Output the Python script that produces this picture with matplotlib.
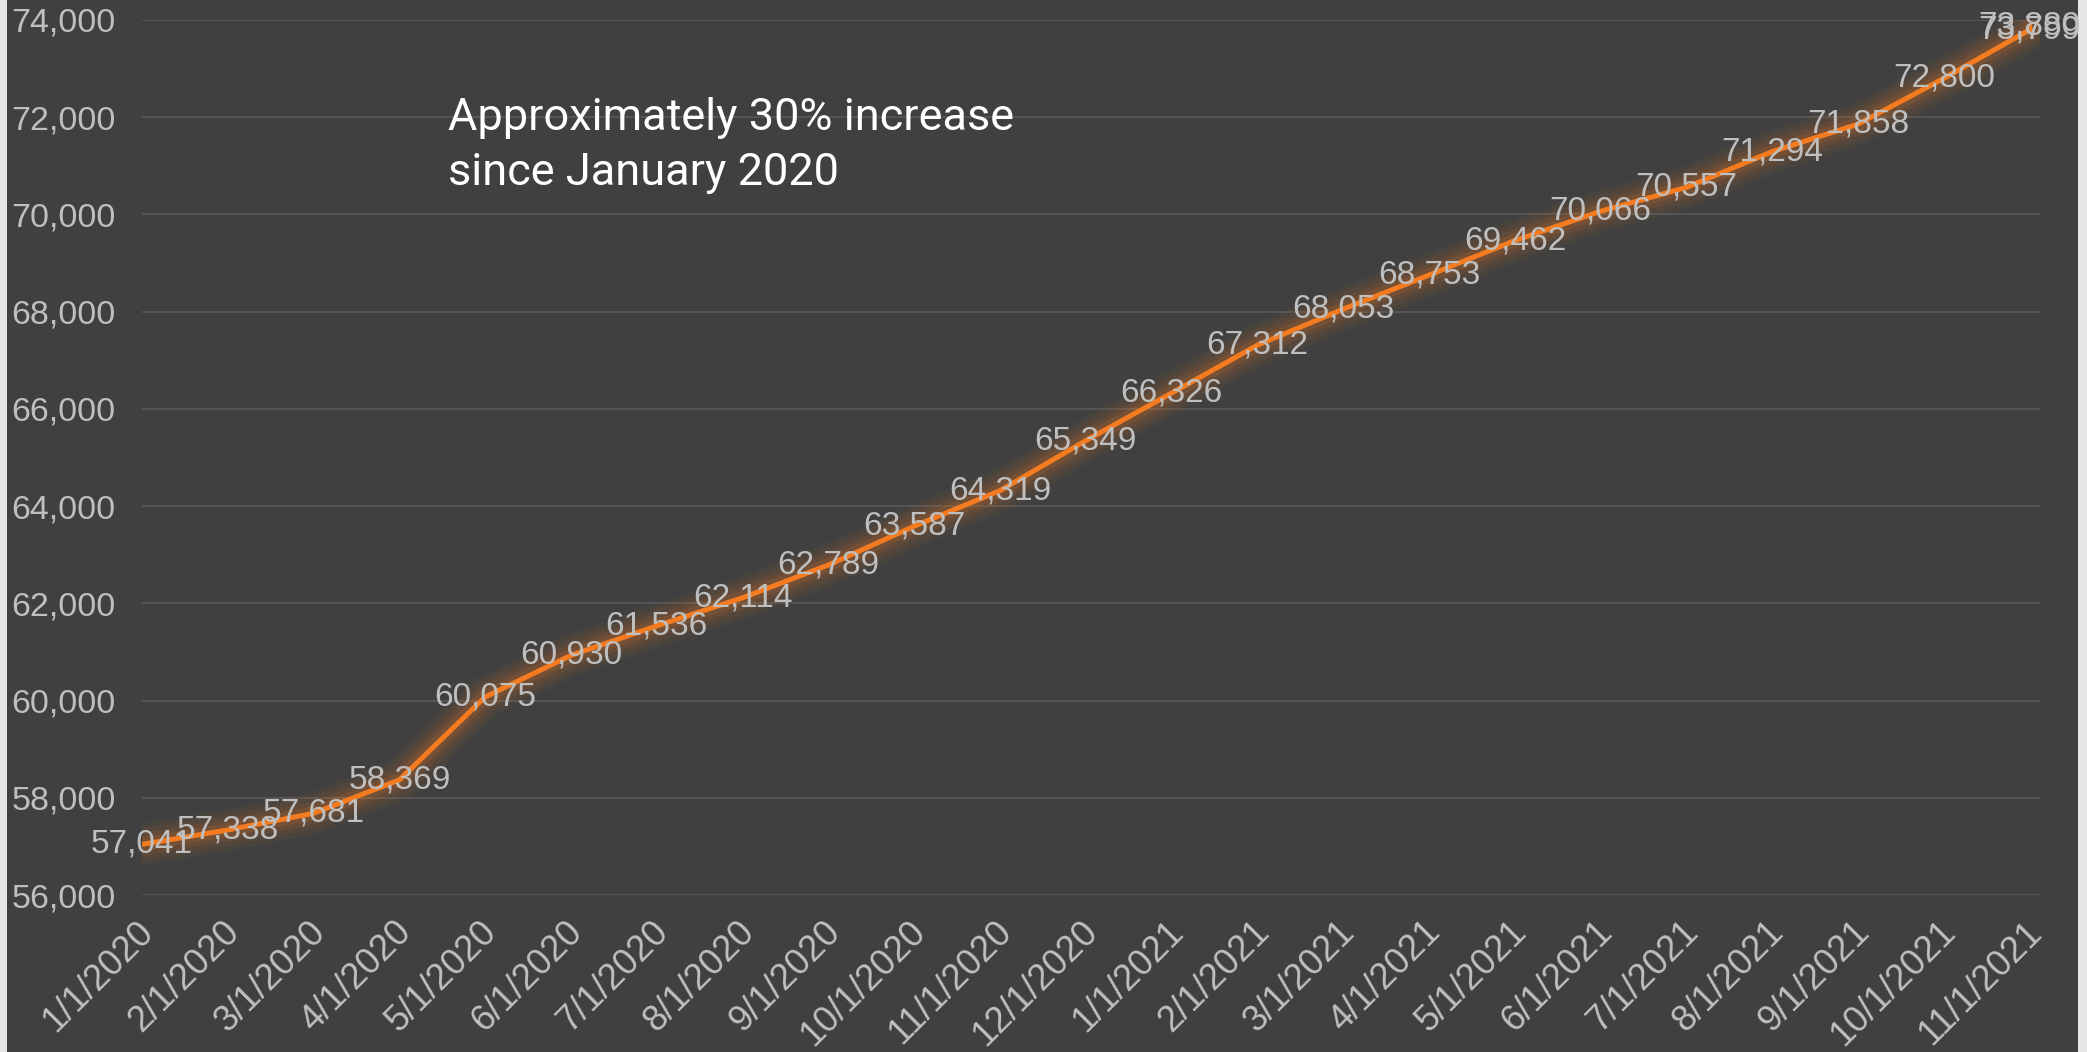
import pandas as pd
import matplotlib.pyplot as plt
from matplotlib.patches import Rectangle
from matplotlib.ticker import FuncFormatter
from matplotlib.transforms import ScaledTranslation

# datos
fechas = ['1/1/2020', '2/1/2020', '3/1/2020', '4/1/2020', '5/1/2020', '6/1/2020',
          '7/1/2020', '8/1/2020', '9/1/2020', '10/1/2020', '11/1/2020', '12/1/2020',
          '1/1/2021', '2/1/2021', '3/1/2021', '4/1/2021', '5/1/2021', '6/1/2021',
          '7/1/2021', '8/1/2021', '9/1/2021', '10/1/2021', '11/1/2021', '11/1/2021']
valores = [57041, 57338, 57681, 58369, 60075, 60930, 61536, 62114, 62789, 63587,
           64319, 65349, 66326, 67312, 68053, 68753, 69462, 70066, 70557, 71294,
           71858, 72800, 73799, 73880]
nota = 'Approximately 30% increase\nsince January 2020'

df = pd.DataFrame({'fecha': pd.to_datetime(fechas, format='%m/%d/%Y'), 'valor': valores})
inicio = df['fecha'].min()
df['mes'] = (df['fecha'].dt.year - inicio.year) * 12 + df['fecha'].dt.month - inicio.month
etiquetas = df.drop_duplicates('mes')

fondo = '#404040'
gris = '#bfbfbf'
naranja = '#f47b20'

fig = plt.figure(figsize=(20.87, 10.52), dpi=100, facecolor='#e6e6e6')
fondo_rect = Rectangle((7 / 2087, 0), 2071 / 2087, 1, transform=fig.transFigure,
                       facecolor=fondo, edgecolor='none', zorder=-10)
fig.add_artist(fondo_rect)
ax = fig.add_axes([142 / 2087, 1 - 895 / 1052, 1898 / 2087, 875 / 1052])
ax.set_zorder(1)
ax.patch.set_alpha(0)

# brillo alrededor de la linea
for lw, a in [(30, 0.05), (23, 0.07), (16, 0.09), (10, 0.13)]:
    ax.plot(df['mes'], df['valor'], color=naranja, lw=lw, alpha=a,
            solid_capstyle='round', solid_joinstyle='round', zorder=2)
ax.plot(df['mes'], df['valor'], color=naranja, lw=3.6,
        solid_capstyle='round', solid_joinstyle='round', zorder=3)

for x, y in zip(df['mes'], df['valor']):
    ax.text(x, y, f'{y:,}', ha='center', va='center', color=gris,
            fontsize=24, family='Liberation Sans', zorder=4)

ax.set_ylim(56000, 74000)
ax.set_xlim(0, 22.12)
ax.set_yticks(range(56000, 74001, 2000))
ax.yaxis.set_major_formatter(FuncFormatter(lambda v, p: f'{int(v):,}'))
ax.set_xticks(etiquetas['mes'])
ax.set_xticklabels(etiquetas['fecha'].apply(lambda d: f'{d.month}/{d.day}/{d.year}'),
                   rotation=45, ha='right', va='top', rotation_mode='anchor')
ax.tick_params(axis='both', length=0, colors=gris)
ax.tick_params(axis='y', pad=19, labelsize=24.5)
ax.tick_params(axis='x', pad=14, labelsize=26)
desplaza = ScaledTranslation(-6 / 100, 0, fig.dpi_scale_trans)
for lab in ax.get_xticklabels():
    lab.set_family('Liberation Sans')
    lab.set_transform(lab.get_transform() + desplaza)
for lab in ax.get_yticklabels():
    lab.set_family('Liberation Sans')
ax.grid(axis='y', color='#575757', lw=1.3)
ax.set_axisbelow(True)
for s in ax.spines.values():
    s.set_visible(False)

fig.text(448 / 2087, 1 - 97 / 1052, nota, ha='left', va='top', color='white',
         fontsize=32.5, family=['Roboto', 'DejaVu Sans'], linespacing=1.38)

fig.savefig('out.png', dpi=100, facecolor=fig.get_facecolor())
